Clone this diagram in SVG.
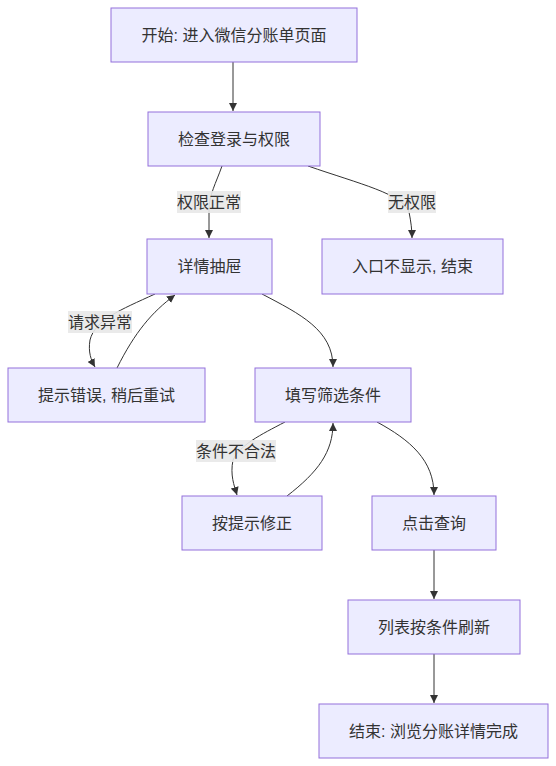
<svg xmlns="http://www.w3.org/2000/svg" width="556" height="766" viewBox="0 0 556 766">
<style>
.node rect{fill:#ECECFF;stroke:#9370DB;stroke-width:1}
text{font-family:"Liberation Sans","Noto Sans CJK SC",sans-serif;font-size:16px;fill:#333;text-anchor:middle;dominant-baseline:central}
.edge{fill:none;stroke:#333;stroke-width:1}
.lbl rect{fill:#e8e8e8;opacity:0.9}
</style>
<defs>
<marker id="arr" viewBox="0 0 10 10" refX="10" refY="5" markerWidth="8" markerHeight="8" markerUnits="userSpaceOnUse" orient="auto">
<path d="M0,0 L10,5 L0,10 z" fill="#333"/>
</marker>
</defs>
<rect width="556" height="766" fill="#fff"/>
<g id="edges">
<path class="edge" marker-end="url(#arr)" d="M233,62 L233,111"/>
<path class="edge" marker-end="url(#arr)" d="M222,166 C216,183 209,195 209,210 L209,238"/>
<path class="edge" marker-end="url(#arr)" d="M308,166 C360,184 403,194 409,212 C411,222 412,230 412,238"/>
<path class="edge" marker-end="url(#arr)" d="M155,294 C120,310 95,320 90,340 C88,352 91,360 95,367"/>
<path class="edge" marker-end="url(#arr)" d="M117,368 C135,332 152,312 175,295"/>
<path class="edge" marker-end="url(#arr)" d="M262,294 C300,314 333,330 333,367"/>
<path class="edge" marker-end="url(#arr)" d="M285,422 C260,435 240,445 233,460 C230,475 234,485 237,495"/>
<path class="edge" marker-end="url(#arr)" d="M287,496 C318,472 333,452 333,423"/>
<path class="edge" marker-end="url(#arr)" d="M377,422 C410,440 434,460 434,495"/>
<path class="edge" marker-end="url(#arr)" d="M434,550 L434,599"/>
<path class="edge" marker-end="url(#arr)" d="M434,654 L434,703"/>
</g>
<g id="edge-labels">
<g class="lbl"><rect x="177" y="191" width="64" height="22"/><text x="209" y="202">权限正常</text></g>
<g class="lbl"><rect x="388" y="191" width="48" height="22"/><text x="412" y="202">无权限</text></g>
<g class="lbl"><rect x="68" y="311" width="64" height="22"/><text x="100" y="322">请求异常</text></g>
<g class="lbl"><rect x="196" y="440" width="80" height="22"/><text x="236" y="451">条件不合法</text></g>
</g>
<g id="n1" class="node"><rect x="111" y="8" width="246" height="54"/><text x="234" y="35">开始: 进入微信分账单页面</text></g>
<g id="n2" class="node"><rect x="148" y="112" width="172" height="54"/><text x="234" y="139">检查登录与权限</text></g>
<g id="n3" class="node"><rect x="147" y="239" width="125" height="55"/><text x="209.5" y="266.5">详情抽屉</text></g>
<g id="n4" class="node"><rect x="322" y="239" width="181" height="55"/><text x="412.5" y="266.5">入口不显示, 结束</text></g>
<g id="n5" class="node"><rect x="8" y="368" width="197" height="54"/><text x="106.5" y="395">提示错误, 稍后重试</text></g>
<g id="n6" class="node"><rect x="255" y="368" width="156" height="54"/><text x="333" y="395">填写筛选条件</text></g>
<g id="n7" class="node"><rect x="182" y="496" width="140" height="54"/><text x="252" y="523">按提示修正</text></g>
<g id="n8" class="node"><rect x="372" y="496" width="124" height="54"/><text x="434" y="523">点击查询</text></g>
<g id="n9" class="node"><rect x="348" y="600" width="172" height="54"/><text x="434" y="627">列表按条件刷新</text></g>
<g id="n10" class="node"><rect x="319" y="704" width="229" height="54"/><text x="433.5" y="731">结束: 浏览分账详情完成</text></g>
</svg>
